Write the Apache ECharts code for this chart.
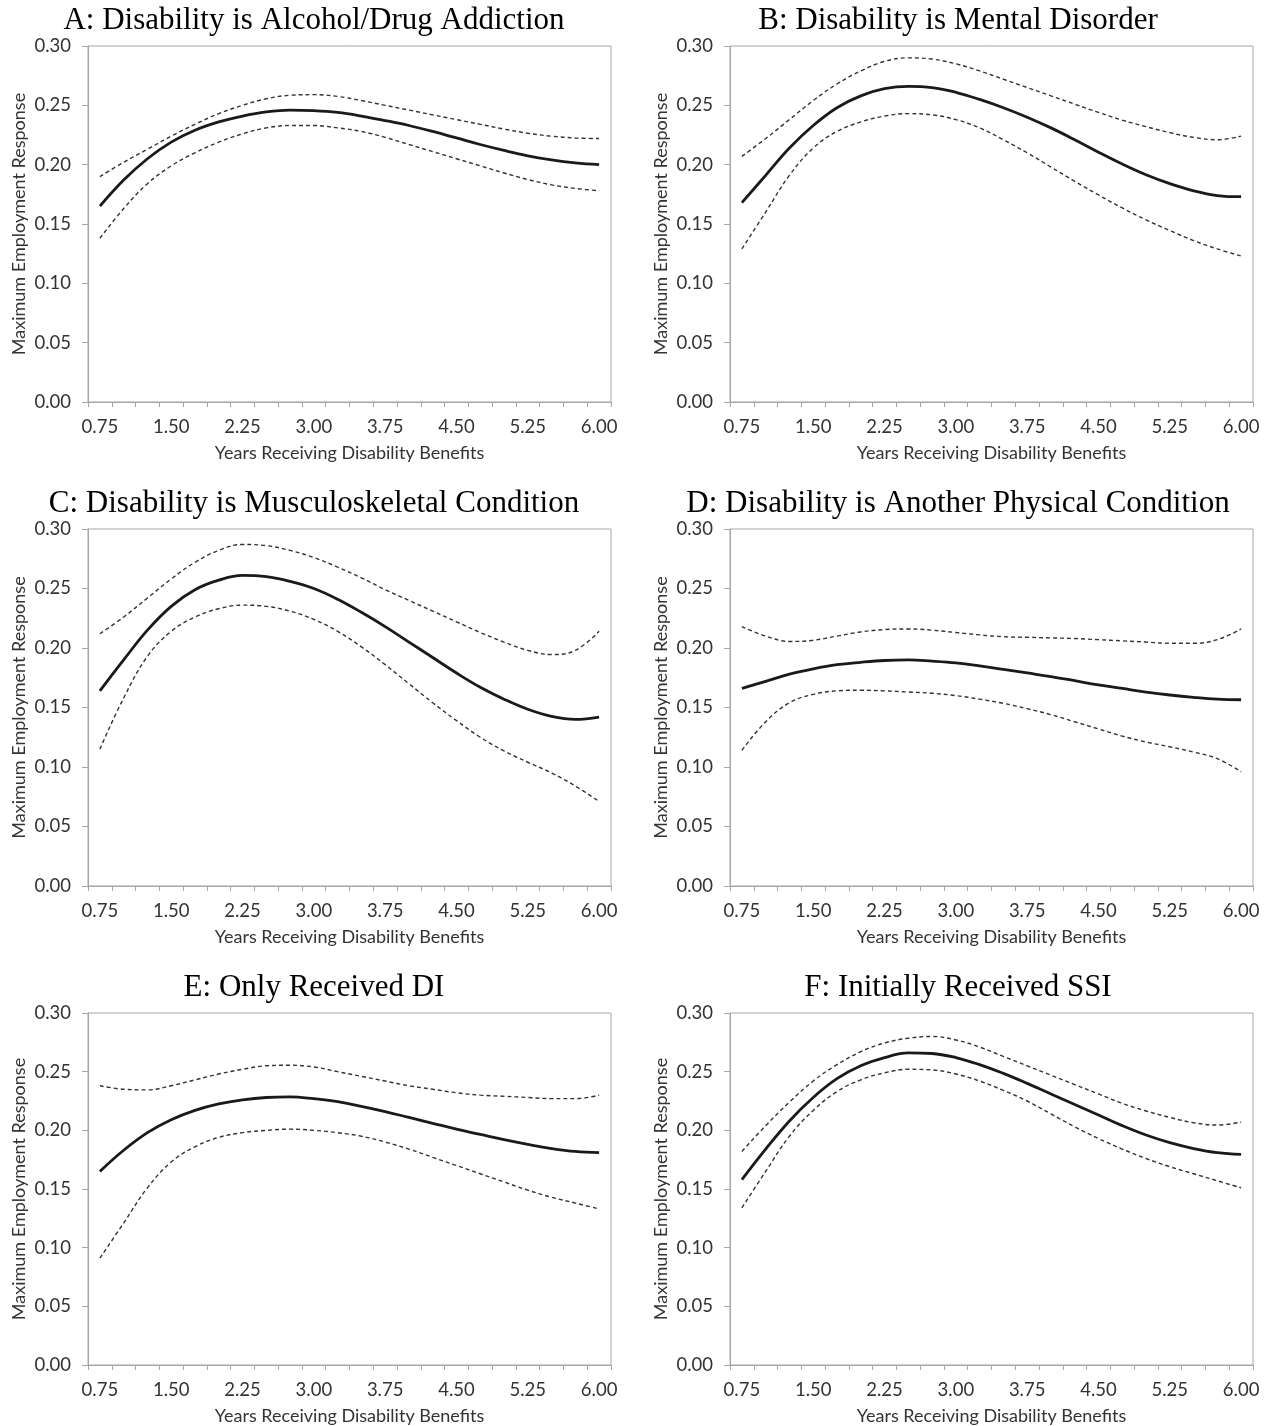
<!DOCTYPE html>
<html>
<head>
<meta charset="utf-8">
<script src="https://cdn.jsdelivr.net/npm/echarts@6/dist/echarts.min.js"></script>
<style>
  html, body { margin: 0; padding: 0; background: #fff; }
  #chart { width: 1272px; height: 1426px; }
</style>
</head>
<body>
<div id="chart"></div>
<script>
// x categories, years receiving benefits
const years = ['0.75', '1.00', '1.25', '1.50', '1.75', '2.00', '2.25', '2.50', '2.75', '3.00', '3.25',
  '3.50', '3.75', '4.00', '4.25', '4.50', '4.75', '5.00', '5.25', '5.50', '5.75', '6.00']

const titles = [
  'A: Disability is Alcohol/Drug Addiction',
  'B: Disability is Mental Disorder',
  'C: Disability is Musculoskeletal Condition',
  'D: Disability is Another Physical Condition',
  'E: Only Received DI',
  'F: Initially Received SSI'
]

// A: alcohol / drug addiction
const aMid = [0.165, 0.187, 0.205, 0.219, 0.229, 0.236, 0.241, 0.2445, 0.246, 0.2455, 0.2440,
  0.2410, 0.2372, 0.233, 0.228, 0.2225, 0.217, 0.212, 0.2075, 0.204, 0.2015, 0.200]
const aUpper = [0.190, 0.202, 0.213, 0.224, 0.234, 0.243, 0.250, 0.2555, 0.2585, 0.259, 0.2575,
  0.254, 0.250, 0.246, 0.242, 0.238, 0.234, 0.230, 0.2265, 0.224, 0.2225, 0.222]
const aLower = [0.138, 0.163, 0.184, 0.199, 0.210, 0.219, 0.226, 0.231, 0.233, 0.233, 0.231,
  0.228, 0.223, 0.217, 0.211, 0.205, 0.199, 0.193, 0.1875, 0.183, 0.180, 0.178]

// B: mental disorder
const bMid = [0.168, 0.191, 0.214, 0.233, 0.248, 0.258, 0.264, 0.266, 0.265, 0.261, 0.255,
  0.248, 0.240, 0.231, 0.221, 0.2105, 0.2005, 0.1915, 0.184, 0.178, 0.174, 0.173]
const bUpper = [0.207, 0.222, 0.238, 0.254, 0.268, 0.279, 0.287, 0.290, 0.289, 0.285, 0.279,
  0.272, 0.265, 0.258, 0.251, 0.244, 0.2375, 0.232, 0.227, 0.223, 0.221, 0.224]
const bLower = [0.129, 0.160, 0.191, 0.214, 0.228, 0.236, 0.241, 0.243, 0.242, 0.238, 0.231,
  0.221, 0.210, 0.198, 0.186, 0.1745, 0.1635, 0.1535, 0.1445, 0.136, 0.129, 0.123]

// C: musculoskeletal condition
const cMid = [0.164, 0.190, 0.215, 0.235, 0.249, 0.257, 0.261, 0.260, 0.256, 0.250, 0.241,
  0.230, 0.218, 0.205, 0.192, 0.179, 0.167, 0.157, 0.1485, 0.1425, 0.140, 0.142]
const cUpper = [0.212, 0.226, 0.242, 0.258, 0.272, 0.282, 0.287, 0.286, 0.282, 0.276, 0.268,
  0.259, 0.249, 0.240, 0.231, 0.222, 0.213, 0.205, 0.198, 0.1945, 0.198, 0.214]
const cLower = [0.115, 0.158, 0.193, 0.214, 0.226, 0.233, 0.236, 0.235, 0.231, 0.224, 0.214,
  0.201, 0.186, 0.170, 0.154, 0.139, 0.125, 0.1135, 0.104, 0.095, 0.084, 0.071]

// D: another physical condition
const dMid = [0.166, 0.172, 0.178, 0.1825, 0.186, 0.188, 0.1895, 0.190, 0.189, 0.1875, 0.185,
  0.182, 0.179, 0.176, 0.1725, 0.169, 0.166, 0.163, 0.1605, 0.1585, 0.157, 0.1565]
const dUpper = [0.218, 0.210, 0.2055, 0.2065, 0.210, 0.2135, 0.2155, 0.216, 0.215, 0.213, 0.211,
  0.2095, 0.209, 0.2085, 0.208, 0.207, 0.206, 0.205, 0.204, 0.204, 0.207, 0.216]
const dLower = [0.114, 0.138, 0.154, 0.161, 0.164, 0.1645, 0.164, 0.163, 0.162, 0.160, 0.157,
  0.1535, 0.149, 0.144, 0.138, 0.132, 0.126, 0.121, 0.117, 0.1125, 0.107, 0.096]

// E: only received DI
const eMid = [0.165, 0.183, 0.198, 0.209, 0.217, 0.2225, 0.226, 0.228, 0.2285, 0.227, 0.2245,
  0.2205, 0.216, 0.211, 0.206, 0.201, 0.1965, 0.192, 0.188, 0.1845, 0.182, 0.181]
const eUpper = [0.238, 0.235, 0.2345, 0.238, 0.243, 0.248, 0.252, 0.255, 0.2555, 0.254, 0.250,
  0.246, 0.242, 0.238, 0.235, 0.232, 0.230, 0.229, 0.228, 0.227, 0.227, 0.230]
const eLower = [0.091, 0.121, 0.151, 0.173, 0.186, 0.194, 0.198, 0.200, 0.201, 0.200, 0.198,
  0.195, 0.190, 0.184, 0.177, 0.170, 0.163, 0.156, 0.149, 0.143, 0.138, 0.133]

// F: initially received SSI
const fMid = [0.158, 0.184, 0.208, 0.228, 0.244, 0.255, 0.262, 0.266, 0.2655, 0.262, 0.256,
  0.2485, 0.240, 0.231, 0.222, 0.213, 0.204, 0.196, 0.1895, 0.1845, 0.181, 0.1795]
const fUpper = [0.182, 0.204, 0.224, 0.242, 0.256, 0.267, 0.2745, 0.2785, 0.280, 0.277, 0.271,
  0.263, 0.255, 0.247, 0.239, 0.231, 0.223, 0.2165, 0.211, 0.2065, 0.2045, 0.207]
const fLower = [0.134, 0.165, 0.195, 0.217, 0.233, 0.243, 0.249, 0.252, 0.2515, 0.248, 0.242,
  0.234, 0.225, 0.214, 0.203, 0.193, 0.184, 0.176, 0.169, 0.163, 0.157, 0.151]

const panels = [
  { mid: aMid, upper: aUpper, lower: aLower },
  { mid: bMid, upper: bUpper, lower: bLower },
  { mid: cMid, upper: cUpper, lower: cLower },
  { mid: dMid, upper: dUpper, lower: dLower },
  { mid: eMid, upper: eUpper, lower: eLower },
  { mid: fMid, upper: fUpper, lower: fLower }
]

// plot box geometry (px)
const colLeft = [88, 730]
const colTitleX = [314, 958]
const rowTop = [46, 529, 1013]
const rowHeight = [356, 357, 353]
const boxWidth = 523

const textColor = '#333'
const axisGray = '#a6a6a6'
const labelFont = 'Lato, "Open Sans", sans-serif'

const chart = echarts.init(document.getElementById('chart'))

const grid = []
const xAxis = []
const yAxis = []
const series = []
const title = []

panels.forEach((p, i) => {
  const col = i % 2
  const row = Math.floor(i / 2)
  grid.push({
    left: colLeft[col],
    top: rowTop[row],
    width: boxWidth,
    height: rowHeight[row],
    show: true,
    borderColor: axisGray,
    borderWidth: 1,
    backgroundColor: 'transparent'
  })
  title.push({
    text: titles[i],
    left: colTitleX[col],
    top: rowTop[row] - 41,
    textAlign: 'center',
    padding: 0,
    textStyle: {
      fontFamily: '"Liberation Serif", "Times New Roman", serif',
      fontWeight: 'normal',
      fontSize: 31,
      color: '#000'
    }
  })
  xAxis.push({
    type: 'category',
    gridIndex: i,
    data: years,
    boundaryGap: true,
    name: 'Years Receiving Disability Benefits',
    nameLocation: 'middle',
    nameGap: 42,
    nameTextStyle: { fontFamily: labelFont, fontSize: 18, color: textColor },
    axisLine: { lineStyle: { color: axisGray, width: 1 } },
    axisTick: { show: true, interval: 0, length: 5, lineStyle: { color: axisGray } },
    axisLabel: {
      interval: 2,
      margin: 16,
      fontFamily: labelFont,
      fontSize: 18.5,
      color: textColor
    },
    splitLine: { show: false }
  })
  yAxis.push({
    type: 'value',
    gridIndex: i,
    min: 0,
    max: 0.3,
    interval: 0.05,
    name: 'Maximum Employment Response',
    nameLocation: 'middle',
    nameGap: 60,
    nameTextStyle: { fontFamily: labelFont, fontSize: 18, color: textColor },
    axisLine: { show: true, lineStyle: { color: axisGray, width: 1 } },
    axisTick: { show: true, length: 6, lineStyle: { color: axisGray } },
    axisLabel: {
      margin: 17,
      fontFamily: labelFont,
      fontSize: 18.5,
      color: textColor,
      formatter: (v) => v.toFixed(2)
    },
    splitLine: { show: false }
  })
  const base = {
    type: 'line',
    xAxisIndex: i,
    yAxisIndex: i,
    smooth: 0.4,
    showSymbol: false,
    silent: true
  }
  series.push({ ...base, data: p.upper, lineStyle: { color: '#333', width: 1.4, type: [4, 3] } })
  series.push({ ...base, data: p.lower, lineStyle: { color: '#333', width: 1.4, type: [4, 3] } })
  series.push({ ...base, data: p.mid, lineStyle: { color: '#1a1a1a', width: 2.8 } })
})

chart.setOption({
  backgroundColor: '#fff',
  animation: false,
  title,
  grid,
  xAxis,
  yAxis,
  series
})
</script>
</body>
</html>
